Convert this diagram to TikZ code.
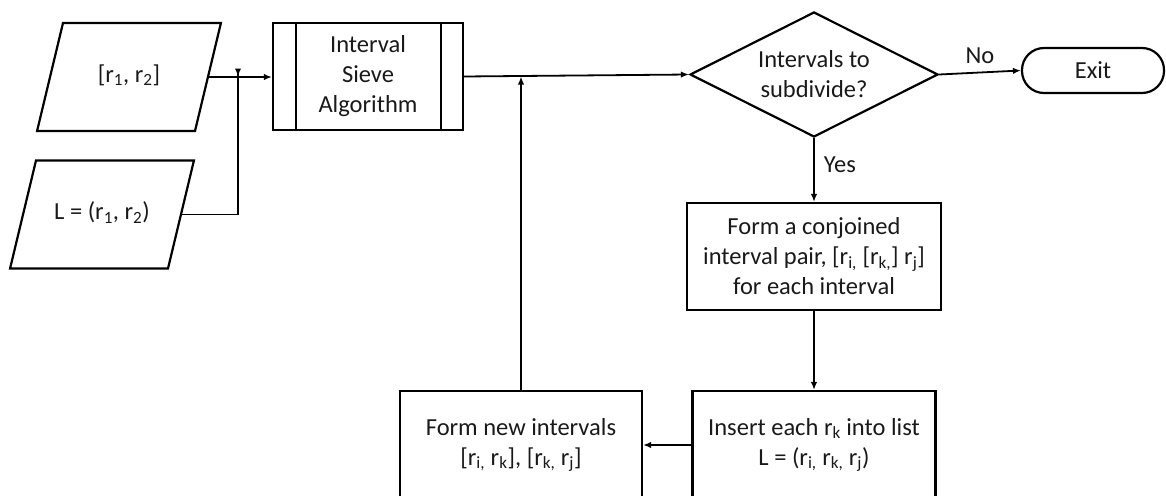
\documentclass[tikz,border=0pt]{standalone}
\usepackage{fontspec}
\setmainfont{Carlito}
\usetikzlibrary{shapes.geometric,arrows.meta}
\newcommand{\paratext}[1]{\makebox[130pt]{#1}}
\begin{document}
\begin{tikzpicture}[x=1pt,y=-1pt,
  every node/.style={font=\fontsize{24.5}{30}\selectfont, text=black!90},
  box/.style={draw, line width=2.2pt, align=center, inner sep=0pt},
  para/.style={draw, line width=2.2pt, trapezium, trapezium left angle=76.5, trapezium right angle=103.5,
    text height=18pt, text depth=8pt, inner xsep=1pt, inner ysep=41pt},
  conn/.style={line width=1.8pt, -{Latex[length=8pt,width=6.5pt]}},
  plain/.style={line width=1.8pt},
  lbl/.style={inner sep=0pt}]
\useasboundingbox (0,0) rectangle (1166,495);
\node[para] (p1) at (129,77) {\paratext{[r\textsubscript{1}, r\textsubscript{2}]}};
\node[para] (p2) at (102,214.5) {\paratext{L = (r\textsubscript{1}, r\textsubscript{2})}};
\node[box, minimum width=190pt, minimum height=107pt] (sieve) at (368,76.5) {Interval\\Sieve\\Algorithm};
\draw[line width=2.2pt] ([xshift=24pt]sieve.north west) -- ([xshift=24pt]sieve.south west);
\draw[line width=2.2pt] ([xshift=-23pt]sieve.north east) -- ([xshift=-23pt]sieve.south east);
\node[box, diamond, aspect=2, minimum width=248pt, minimum height=125pt] (dec) at (814,74.5) {Intervals to\\subdivide?};
\node[box, rounded corners=22pt, minimum width=142pt, minimum height=45pt] (exit) at (1093,70.5) {Exit};
\node[box, minimum width=254pt, minimum height=107pt] (cj) at (814,256.5) {Form a conjoined\\interval pair, [r\textsubscript{i,} [r\textsubscript{k,}] r\textsubscript{j}]\\for each interval};
\node[box, minimum width=243pt, minimum height=108pt] (ins) at (814,445) {Insert each r\textsubscript{k} into list\\L = (r\textsubscript{i,} r\textsubscript{k,} r\textsubscript{j})};
\node[box, minimum width=242pt, minimum height=108pt] (new) at (521,445) {Form new intervals\\{}[r\textsubscript{i,} r\textsubscript{k}], [r\textsubscript{k,} r\textsubscript{j}]};
\coordinate (j1) at (238,76.5);
\draw[conn] (p1.east) -- (p1.east -| sieve.west);
\draw[plain] (p2.east) -| ([yshift=6pt]j1);
\draw[conn] ([yshift=6pt]j1) -- (j1);
\draw[conn] (sieve.east) -- (dec.west);
\draw[conn] (new.north) -- (new.north |- sieve.east);
\draw[conn] (dec.south) -- node[lbl, right=9pt, pos=0.42] {Yes} (cj.north);
\draw[conn] (dec.east) -- node[lbl, above=8pt, pos=0.5] {No} (exit.west);
\draw[conn] (cj.south) -- (ins.north);
\draw[conn] (ins.west) -- (new.east);
\end{tikzpicture}
\end{document}
